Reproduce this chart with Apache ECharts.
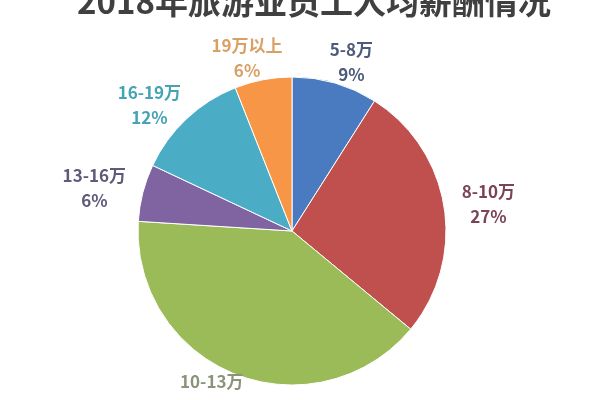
<!DOCTYPE html>
<html>
<head>
<meta charset="utf-8">
<script src="https://cdn.jsdelivr.net/npm/echarts@6/dist/echarts.min.js"></script>
<style>html,body{margin:0;padding:0;background:#fff;}#c{width:600px;height:400px;}</style>
</head>
<body>
<div id="c"></div>
<script>
const titleText = '2018年旅游业员工人均薪酬情况';
const categories = ['5-8万', '8-10万', '10-13万', '13-16万', '16-19万', '19万以上'];
const values = [9, 27, 40, 6, 12, 6];
const sliceColors = ['#4a7bc0', '#c0504d', '#9bbb59', '#8064a2', '#4bacc6', '#f79646'];
const labelColors = ['#4a5a78', '#7a4457', '#8a9478', '#5e5a78', '#44a3b5', '#d9a066'];

const CX = 292, CY = 231, R = 154;

function placeLabel(p) {
  const r = p.labelRect;
  if (!r) return {};
  let ax;
  if (p.align === 'right') ax = r.x + r.width;
  else if (p.align === 'center') ax = r.x + r.width / 2;
  else ax = r.x;
  const ay = r.y + r.height / 2;
  const dx = ax - CX, dy = ay - CY;
  const len = Math.sqrt(dx * dx + dy * dy) || 1;
  const ux = dx / len, uy = dy / len;
  const ex = CX + R * ux, ey = CY + R * uy;
  const hw = r.width / 2, hh = r.height / 2;
  const x = ex + (hw + 18) * ux;
  let y = ey + (hh - 2) * uy;
  y = Math.min(y, 407);
  return { x: x, y: y, align: 'center', verticalAlign: 'middle' };
}

const chart = echarts.init(document.getElementById('c'), null, { renderer: 'canvas' });
chart.setOption({
  backgroundColor: '#fff',
  animation: false,
  title: {
    text: titleText,
    left: 72,
    top: -20,
    textStyle: { fontSize: 33, fontWeight: 'bold', color: '#404040', fontFamily: 'Noto Sans CJK SC' }
  },
  series: [{
    type: 'pie',
    center: [CX, CY],
    radius: R,
    startAngle: 90,
    clockwise: true,
    avoidLabelOverlap: false,
    data: categories.map((c, i) => ({
      name: c,
      value: values[i],
      itemStyle: { color: sliceColors[i] },
      label: { color: labelColors[i] }
    })),
    itemStyle: { borderColor: '#ffffff', borderWidth: 1 },
    label: {
      position: 'outside',
      formatter: '{b}\n{d}%',
      fontSize: 17,
      lineHeight: 25,
      fontWeight: 'bold',
      fontFamily: 'Noto Sans CJK SC'
    },
    labelLine: { show: false, length: 10, length2: 0 },
    labelLayout: placeLabel,
    emphasis: { disabled: true }
  }]
});
</script>
</body>
</html>
